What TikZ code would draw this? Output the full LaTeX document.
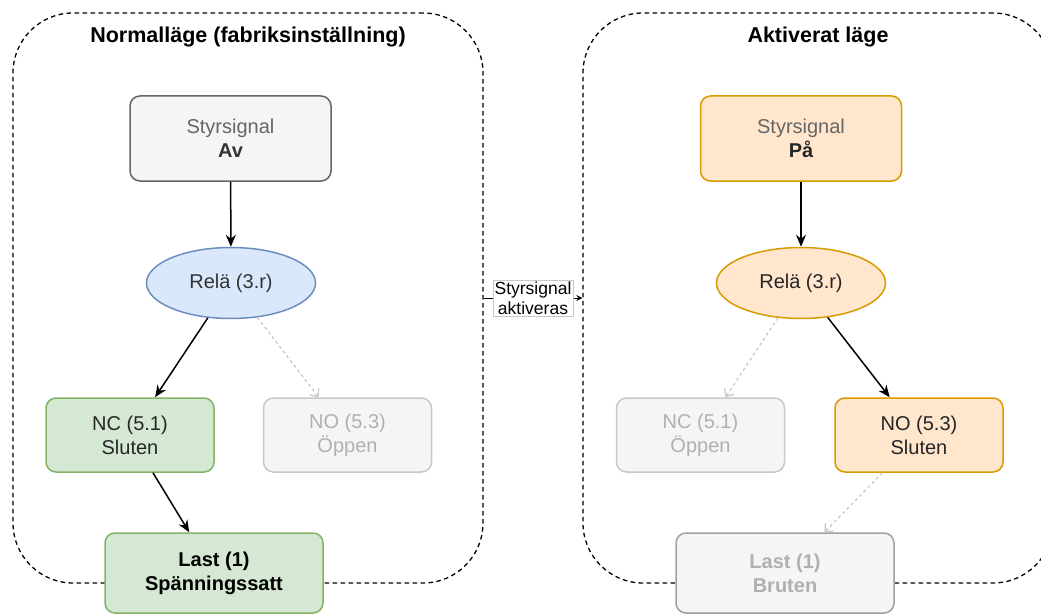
\documentclass[tikz,border=0pt]{standalone}
\usepackage{fontspec}
\setmainfont{Liberation Sans}
\usetikzlibrary{arrows.meta,shapes.geometric}
\definecolor{graFyll}{HTML}{F5F5F5}
\definecolor{graKant}{HTML}{666666}
\definecolor{graText}{HTML}{333333}
\definecolor{svagKant}{HTML}{C8C8C8}
\definecolor{svagText}{HTML}{B0B0B0}
\definecolor{blaFyll}{HTML}{DAE8FC}
\definecolor{blaKant}{HTML}{6C8EBF}
\definecolor{gronFyll}{HTML}{D5E8D4}
\definecolor{gronKant}{HTML}{82B366}
\definecolor{orangeFyll}{HTML}{FFE6CC}
\definecolor{orangeKant}{HTML}{D79B00}

\tikzset{
  ram/.style={draw,line width=1.3pt,dash pattern=on 4.5pt off 3.5pt,
    rounded corners=60pt,minimum width=470pt,minimum height=570pt},
  rubrik/.style={font=\fontsize{21.5}{26}\selectfont\bfseries},
  bas/.style={font=\fontsize{20}{24}\selectfont,align=center,
    line width=1.5pt,inner sep=0pt},
  ruta/.style={bas,rectangle,draw,rounded corners=10pt,
    minimum width=168pt,minimum height=74pt},
  signal/.style={ruta,minimum width=201pt,minimum height=85pt},
  last/.style={ruta,minimum width=218pt,minimum height=80pt},
  rele/.style={bas,ellipse,draw,minimum width=169pt,minimum height=71pt},
  av/.style={fill=graFyll,draw=graKant,text=graText},
  svag/.style={fill=graFyll,draw=svagKant,text=svagText},
  gron/.style={fill=gronFyll,draw=gronKant,text=black!85},
  bla/.style={fill=blaFyll,draw=blaKant,text=black!80},
  orange/.style={fill=orangeFyll,draw=orangeKant,text=black!85},
  pil/.style={->,line width=1.5pt},
  streckpil/.style={-{Straight Barb[length=6pt,width=11pt]},line width=1.3pt,
    draw=svagKant,dash pattern=on 3pt off 3pt},
  etikett/.style={draw=svagKant,fill=white,line width=0.8pt,align=center,
    inner sep=1.5pt,font=\fontsize{17.5}{20}\selectfont}
}

\begin{document}
\begin{tikzpicture}[x=1pt,y=-1pt,>={Stealth[length=12pt,width=10pt,inset=4pt]}]
  \clip (0,0) rectangle (1041,615);
  % ramar
  \node[ram] (normal) at (248,298) {};
  \node[ram] (aktiv) at (818,298) {};
  \node[rubrik] (rubrikNormal) at (248,37) {Normalläge (fabriksinställning)};
  \node[rubrik] (rubrikAktiv) at (818,37) {Aktiverat läge};

  % normalläge
  \node[signal,av] (signalAv) at (230.5,138.5)
    {\color{graKant}Styrsignal\\\textbf{Av}};
  \node[rele,bla] (releNormal) at (231,283) {Relä (3.r)};
  \node[ruta,gron] (ncNormal) at (130,435) {NC (5.1)\\Sluten};
  \node[ruta,svag] (noNormal) at (347.5,435) {NO (5.3)\\Öppen};
  \node[last,gron,text=black] (lastNormal) at (214,573)
    {\textbf{Last (1)}\\\textbf{Spänningssatt}};
  \draw[pil] (signalAv) -- (releNormal);
  \draw[pil] (releNormal) -- (ncNormal);
  \draw[streckpil] (releNormal) -- (noNormal);
  \draw[pil] (ncNormal) -- (lastNormal);

  % aktiverat läge
  \node[signal,orange] (signalPa) at (801,138.5)
    {\color{graKant}Styrsignal\\\textbf{På}};
  \node[rele,orange] (releAktiv) at (801,283) {Relä (3.r)};
  \node[ruta,svag] (ncAktiv) at (700.5,435) {NC (5.1)\\Öppen};
  \node[ruta,orange] (noAktiv) at (919,435) {NO (5.3)\\Sluten};
  \node[last,svag,draw=svagKant!80!black] (lastAktiv) at (785,573)
    {\textbf{Last (1)}\\\textbf{Bruten}};
  \draw[pil] (signalPa) -- (releAktiv);
  \draw[streckpil] (releAktiv) -- (ncAktiv);
  \draw[pil] (releAktiv) -- (noAktiv);
  \draw[streckpil] (noAktiv) -- (lastAktiv);

  % byte mellan lägena
  \draw[-{Stealth[length=6pt,width=6pt]},line width=1pt] (normal.east) --
    node[etikett] (byte) {Styrsignal\\aktiveras} (aktiv.west);
\end{tikzpicture}
\end{document}
